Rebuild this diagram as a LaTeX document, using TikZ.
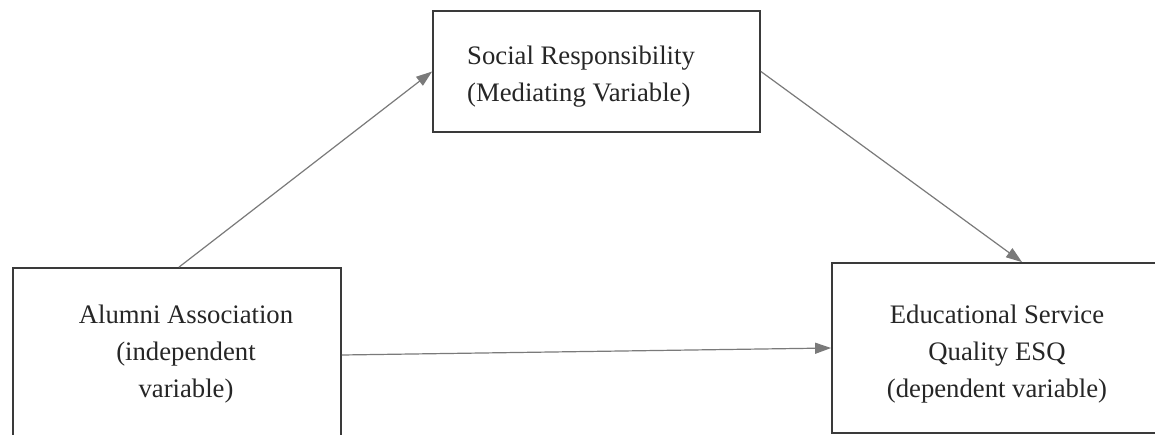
\documentclass[tikz,border=0pt]{standalone}
\usepackage{fontspec}
\setmainfont{Liberation Serif}
\usetikzlibrary{arrows.meta}
\usetikzlibrary{positioning}
\definecolor{boxgray}{HTML}{3A3A3A}
\definecolor{textgray}{HTML}{262626}
\definecolor{arrowgray}{HTML}{7A7A7A}
\tikzset {
  % box of one variable
  var box/.style = {
    draw = boxgray,
    line width = 1.8pt,
    rectangle,
    inner sep = 0
  },
  % label set inside a box
  var text/.style = {
    inner sep = 0,
    text = textgray,
    font = \fontsize{26.7}{37}\selectfont
  },
  % path style with an arrow at its end
  link/.style = {
    draw = arrowgray,
    line width = 1.2pt,
    -{Triangle[length = 16pt, width = 11pt]}
  }
}

\begin{document}
\begin{tikzpicture}[x = 1pt, y = 1pt]
    \clip (0,0) rectangle (1155,434);
    \fill[white] (0,0) rectangle (1155,434);

    \node[var box, minimum width = 327pt, minimum height = 121pt] (social) at (596.5,362.5) {};
    \node[var box, minimum width = 328pt, minimum height = 174pt] (alumni) at (177,79) {};
    \node[var box, minimum width = 330pt, minimum height = 170pt] (esq) at (997,86) {};

    \node[var text, align = left, anchor = west] (social-text) at (467,357)
      {Social Responsibility\\(Mediating Variable)};
    \node[var text, align = center] (alumni-text) at (186,79.5)
      {Alumni Association\\(independent\\variable)};
    \node[var text, align = center] (esq-text) at (997,79.5)
      {Educational Service\\Quality ESQ\\(dependent variable)};

    \draw[link] ([xshift = 2pt]alumni.north) -- (social.west);
    \draw[link] (social.east) -- ([xshift = 25pt]esq.north);
    \draw[link] (alumni.east) -- (esq.west);
  \end{tikzpicture}
\end{document}
